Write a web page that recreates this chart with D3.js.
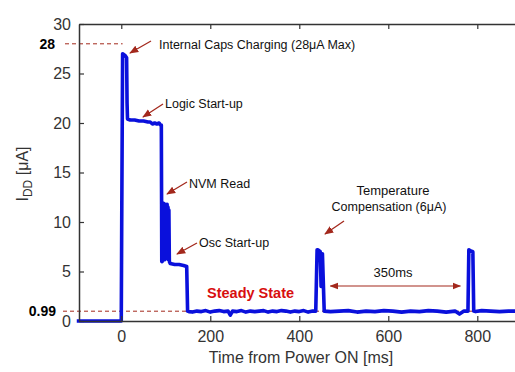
<!DOCTYPE html>
<html>
<head>
<meta charset="utf-8">
<script src="https://cdn.jsdelivr.net/npm/d3@7"></script>
<style>
  html, body { margin: 0; padding: 0; background: #fff; }
  svg { display: block; font-family: "Liberation Sans", Arial, sans-serif; }
</style>
</head>
<body>
<svg id="chart" width="515" height="372"></svg>
<script>
// Supply current after power-on (time in ms, current in µA)
const timeMs = [
  -100, 0, 1, 3, 6, 9, 12, 13, 14, 20, 30, 40, 50, 60, 65, 70, 75, 80, 85, 88, 90,
  91, 92, 93, 94, 95, 96, 97, 98, 99, 100, 101, 102, 103, 104, 105, 106, 107, 108,
  110, 120, 130, 140, 147, 149,
  152, 160, 170, 180, 190, 200, 210, 220, 230, 240, 245, 250, 260, 270, 280, 290,
  300, 310, 320, 330, 340, 350, 360, 370, 380, 390, 400, 410, 420, 430, 437,
  440, 442, 447, 449, 452, 456, 470, 490, 510, 530, 550, 570, 590, 610, 630, 650,
  670, 690, 710, 730, 750, 760, 770, 779, 781, 784, 790, 792, 796, 810, 830, 850,
  870, 900
];
const currentUA = [
  0, 0, 10, 27.0, 26.9, 26.8, 26.6, 22, 20.4, 20.3, 20.3, 20.2, 20.2, 20.1, 20.1, 19.9, 20.0, 19.9, 20.0, 19.8, 19.8,
  6.0, 6.0, 11.6, 6.3, 11.9, 7.0, 11.8, 6.2, 11.8, 6.8, 11.6, 6.4, 11.8, 6.6, 11.5, 6.2, 11.2, 6.0,
  5.8, 5.7, 5.7, 5.6, 5.5, 1.0,
  0.95, 0.9, 1.0, 0.95, 1.05, 0.9, 1.0, 1.05, 0.95, 1.0, 0.6, 1.0, 0.95, 1.05, 0.9, 1.0,
  0.95, 1.0, 1.05, 0.9, 1.0, 0.95, 1.05, 1.0, 0.9, 1.0, 0.95, 1.05, 0.9, 1.0, 1.0,
  7.2, 7.2, 7.0, 3.5, 6.8, 1.0, 0.95, 1.0, 1.05, 0.9, 1.0, 0.95, 1.05, 1.0, 0.9, 1.0,
  0.95, 1.05, 1.0, 0.9, 1.0, 0.7, 1.0, 1.0, 7.2, 7.1, 7.0, 1.0, 0.95, 1.05, 1.0, 0.95,
  1.0, 1.0
];

const xTicks = [0, 200, 400, 600, 800];
const yTicks = [0, 5, 10, 15, 20, 25, 30];
const peakCurrent = 28;      // µA, internal caps charging maximum
const steadyCurrent = 0.99;  // µA, steady state
const tempCompStart = 440;   // ms, first temperature compensation pulse
const tempCompPeriod = 350;  // ms, compensation interval

const svg = d3.select("#chart");
const x = d3.scaleLinear().domain([-95, 900]).range([79, 521.8]);
const y = d3.scaleLinear().domain([0, 30]).range([321, 24]);

const annoColor = "#a3281c";

// arrow marker
const defs = svg.append("defs");
defs.append("marker")
  .attr("id", "arrow").attr("viewBox", "0 0 10 10")
  .attr("refX", 9).attr("refY", 5)
  .attr("markerWidth", 7).attr("markerHeight", 7)
  .attr("orient", "auto-start-reverse")
  .append("path").attr("d", "M0,1 L10,5 L0,9 Z").attr("fill", annoColor);

// reference dashed lines
svg.append("line")
  .attr("x1", 65).attr("x2", x(3))
  .attr("y1", y(peakCurrent)).attr("y2", y(peakCurrent))
  .attr("stroke", annoColor).attr("stroke-width", 1).attr("stroke-dasharray", "4,3");
svg.append("line")
  .attr("x1", 63).attr("x2", 515)
  .attr("y1", y(steadyCurrent)).attr("y2", y(steadyCurrent))
  .attr("stroke", annoColor).attr("stroke-width", 1).attr("stroke-dasharray", "4,3");

// trace
const pts = timeMs.map((t, i) => [t, currentUA[i]]);
svg.append("path")
  .datum(pts)
  .attr("fill", "none")
  .attr("stroke", "#0a10dc")
  .attr("stroke-width", 3.6)
  .attr("stroke-linejoin", "round")
  .attr("d", d3.line().x(d => x(d[0])).y(d => y(d[1])));

// axes (inward ticks)
const axisColor = "#333";
const gBottom = svg.append("g").attr("transform", `translate(0,${y(0)})`)
  .call(d3.axisBottom(x).tickValues(xTicks).tickSizeInner(-5).tickSizeOuter(0).tickPadding(10));
const gTop = svg.append("g").attr("transform", `translate(0,${y(30)})`)
  .call(d3.axisTop(x).tickValues(xTicks).tickSizeInner(-5).tickSizeOuter(0).tickFormat(""));
const gLeft = svg.append("g").attr("transform", `translate(${x(-95)},0)`)
  .call(d3.axisLeft(y).tickValues(yTicks).tickSizeInner(-5).tickSizeOuter(0).tickPadding(8));
[gBottom, gTop, gLeft].forEach(g => {
  g.select(".domain").attr("stroke", axisColor).attr("stroke-width", 1.5);
  g.selectAll(".tick line").attr("stroke", axisColor).attr("stroke-width", 1.2);
  g.selectAll(".tick text").attr("fill", "#333")
    .style("font-size", "16px").style("font-family", "'Liberation Sans', Arial, sans-serif");
});

// axis titles
svg.append("text")
  .attr("x", 301).attr("y", 363).attr("text-anchor", "middle")
  .attr("fill", "#333").style("font-size", "16px")
  .text("Time from Power ON [ms]");
const yl = svg.append("text")
  .attr("transform", "translate(28,174) rotate(-90)")
  .attr("text-anchor", "middle").attr("fill", "#333").style("font-size", "16px");
yl.append("tspan").text("I");
yl.append("tspan").attr("dy", 4).style("font-size", "12px").text("DD");
yl.append("tspan").attr("dy", -4).text(" [μA]");

// bold value labels
svg.append("text").attr("x", 55).attr("y", y(peakCurrent)).attr("dy", "0.35em")
  .attr("text-anchor", "end").attr("font-weight", "bold").style("font-size", "14px")
  .text(String(peakCurrent));
svg.append("text").attr("x", 56).attr("y", y(steadyCurrent)).attr("dy", "0.35em")
  .attr("text-anchor", "end").attr("font-weight", "bold").style("font-size", "14px")
  .text(String(steadyCurrent));

// callouts
function callout(text, tx, ty, ax1, ay1, ax2, ay2) {
  svg.append("line")
    .attr("x1", ax1).attr("y1", ay1).attr("x2", ax2).attr("y2", ay2)
    .attr("stroke", annoColor).attr("stroke-width", 1.3)
    .attr("marker-end", "url(#arrow)");
  if (text) svg.append("text").attr("x", tx).attr("y", ty).attr("dy", "0.35em")
    .attr("fill", "#111").style("font-size", "12.5px").text(text);
}
callout("Internal Caps Charging (28μA Max)", 159, 45, 151, 41, 130, 53);
callout("Logic Start-up", 165, 104, 163, 104, 143, 117);
callout("NVM Read", 189, 184, 187, 182, 167, 194);
callout("Osc Start-up", 199, 243, 197, 243, 177, 254);

// temperature compensation
svg.append("text").attr("x", 393).attr("y", 190).attr("dy", "0.35em")
  .attr("text-anchor", "middle").style("font-size", "13px").attr("fill", "#111")
  .text("Temperature");
svg.append("text").attr("x", 389).attr("y", 207).attr("dy", "0.35em")
  .attr("text-anchor", "middle").style("font-size", "12.5px").attr("fill", "#111")
  .text("Compensation (6μA)");
callout(null, 0, 0, 344, 221, 325, 234);

// interval arrow
const ya = 286;
svg.append("line")
  .attr("x1", x(tempCompStart + 30)).attr("x2", x(tempCompStart + tempCompPeriod - 28))
  .attr("y1", ya).attr("y2", ya)
  .attr("stroke", annoColor).attr("stroke-width", 1.2)
  .attr("marker-start", "url(#arrow)").attr("marker-end", "url(#arrow)");
svg.append("text").attr("x", 393).attr("y", 272).attr("dy", "0.35em")
  .attr("text-anchor", "middle").style("font-size", "13px").attr("fill", "#111")
  .text(tempCompPeriod + "ms");

// steady state label
svg.append("text").attr("x", 207).attr("y", 293).attr("dy", "0.35em")
  .attr("fill", "#d80e0e").attr("font-weight", "bold").style("font-size", "14.5px")
  .text("Steady State");
</script>
</body>
</html>
